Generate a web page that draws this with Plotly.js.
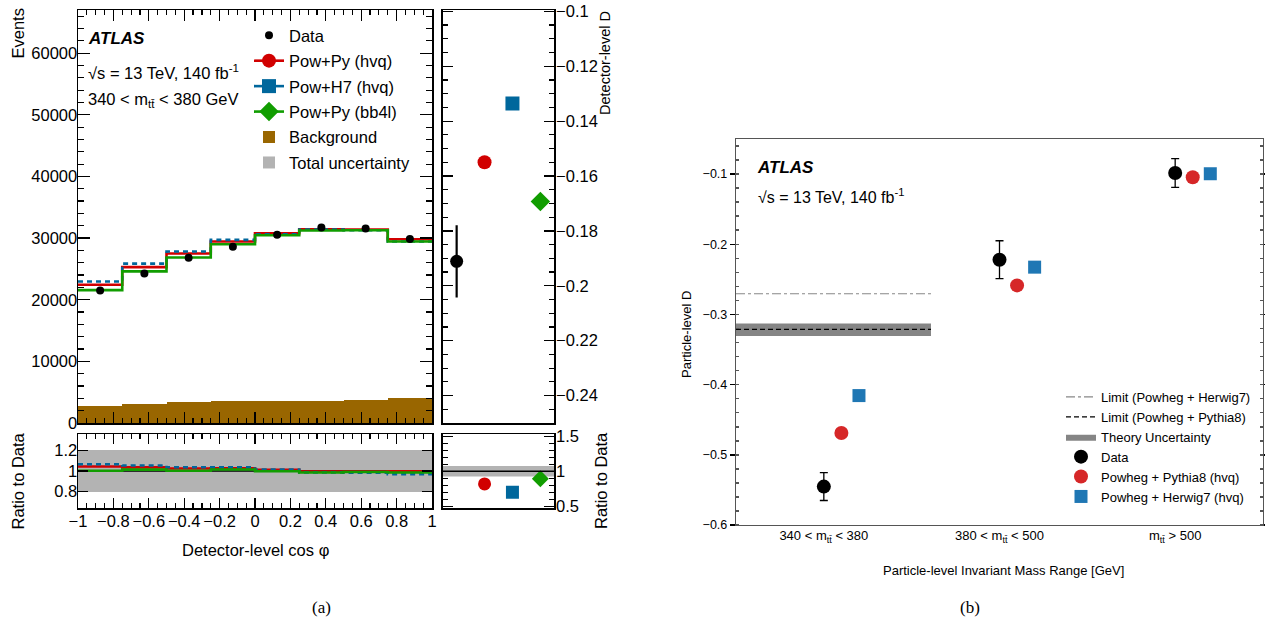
<!DOCTYPE html>
<html><head><meta charset="utf-8">
<script src="https://cdn.plot.ly/plotly-3.0.1.min.js"></script>
<style>html,body{margin:0;padding:0;background:#fff;} #chart{width:1265px;height:627px;}</style>
</head><body><div id="chart"></div>
<script>
// ---------------- Panel (a) values ----------------
const binEdges = [-1, -0.75, -0.5, -0.25, 0, 0.25, 0.5, 0.75, 1];
const dataEvents = [21500, 24260, 26800, 28580, 30520, 31720, 31550, 29870];
const powPyHvq = [22420, 25280, 27500, 29450, 30790, 31440, 31390, 29820];
const powH7Hvq = [22960, 25860, 27830, 29710, 30630, 31390, 31280, 29450];
const powPyBb4l = [21560, 24590, 26850, 29010, 30470, 31230, 31280, 29450];
const background = [2750, 3130, 3350, 3560, 3610, 3560, 3730, 4000];
const ratioPowPyHvq = [1.044, 1.035, 1.025, 1.027, 1.012, 0.994, 0.995, 0.998];
const ratioPowH7Hvq = [1.066, 1.053, 1.037, 1.037, 1.014, 0.987, 0.984, 0.970];
const ratioPowPyBb4l = [1.003, 1.013, 1.002, 1.015, 0.997, 0.985, 0.991, 0.986];
const totalUnc = [0.2, 0.2, 0.2, 0.2, 0.2, 0.2, 0.2, 0.2];
// detector-level D summary
const dLabels = ['Data', 'Pow+Py (hvq)', 'Pow+H7 (hvq)', 'Pow+Py (bb4l)'];
const detD = [-0.1911, -0.155, -0.1336, -0.1693];
const detDErr = [0.0132, 0, 0, 0];
const detDRatio = [1, 0.82, 0.70, 0.893];
const detDDataUnc = 0.075;

// ---------------- Panel (b) values ----------------
const massRanges = ['340 &lt; m<sub>tt̄</sub> &lt; 380', '380 &lt; m<sub>tt̄</sub> &lt; 500', 'm<sub>tt̄</sub> &gt; 500'];
const dataPartD = [-0.5453, -0.222, -0.0985];
const dataPartErr = [0.0198, 0.027, 0.0205];
const pythiaPartD = [-0.469, -0.2586, -0.1045];
const herwigPartD = [-0.4156, -0.2326, -0.0995];
const limitHerwig = -0.2705;
const limitPythia = -0.3212;
const theoryBand = [-0.3307, -0.3128];

// ---------------- helpers ----------------
const W = 1265, H = 627;
const PX = x => x / W;
const PY = y => 1 - y / H;
const FONT = 'Liberation Sans, Arial, sans-serif';
const RED = '#d10000', BLUE = '#00679c', GREEN = '#119d00', BROWN = '#996600', GREY = '#b3b3b3';
const centers = binEdges.slice(0, -1).map((e, i) => (e + binEdges[i + 1]) / 2);
const stepY = v => v.concat([v[v.length - 1]]);

const traces = [];
traces.push({type: 'bar', x: centers, y: background, width: 0.25, xaxis: 'x', yaxis: 'y',
  marker: {color: BROWN, line: {width: 0}}, name: 'Background', legend: 'legend', legendgroup: 'g5', legendrank: 5, hoverinfo: 'skip'});
traces.push({type: 'bar', x: centers, y: totalUnc.map(u => 2 * u), base: totalUnc.map(u => 1 - u), width: 0.25,
  xaxis: 'x2', yaxis: 'y2', marker: {color: GREY, line: {width: 0}}, name: 'Total uncertainty', legend: 'legend', legendgroup: 'g6', legendrank: 6, hoverinfo: 'skip'});
const stepDefs = [
  [powPyHvq, ratioPowPyHvq, RED, 'solid'],
  [powH7Hvq, ratioPowH7Hvq, BLUE, '5px,4px'],
  [powPyBb4l, ratioPowPyBb4l, GREEN, 'solid']
];
stepDefs.forEach(([v, r, c, d]) => {
  traces.push({type: 'scatter', mode: 'lines', x: binEdges, y: stepY(v), xaxis: 'x', yaxis: 'y',
    line: {shape: 'hv', color: c, width: 2.6, dash: d}, showlegend: false, hoverinfo: 'skip'});
});
traces.push({type: 'scatter', mode: 'lines', x: binEdges, y: stepY(dataEvents.map(v => v / v)), xaxis: 'x2', yaxis: 'y2',
  line: {shape: 'hv', color: '#000', width: 1.3}, showlegend: false, hoverinfo: 'skip'});
stepDefs.forEach(([v, r, c, d]) => {
  traces.push({type: 'scatter', mode: 'lines', x: binEdges, y: stepY(r), xaxis: 'x2', yaxis: 'y2',
    line: {shape: 'hv', color: c, width: 2.6, dash: d}, showlegend: false, hoverinfo: 'skip'});
});
traces.push({type: 'scatter', mode: 'markers', x: centers, y: dataEvents, xaxis: 'x', yaxis: 'y',
  marker: {color: '#000', size: 8}, name: 'Data', legend: 'legend', legendgroup: 'g1', legendrank: 1, hoverinfo: 'skip'});

const dSym = ['circle', 'circle', 'square', 'diamond'];
const dCol = ['#000', RED, BLUE, GREEN];
const dSize = [13, 14, 14, 15];
dLabels.forEach((lab, i) => {
  const t = {type: 'scatter', mode: i === 0 ? 'markers' : 'lines+markers', x: [i + 0.5], y: [detD[i]], xaxis: 'x3', yaxis: 'y3',
    marker: {color: dCol[i], size: dSize[i], symbol: dSym[i]}, line: {color: dCol[i], width: 2.6},
    name: lab, legend: 'legend', legendgroup: 'g' + (i + 1), legendrank: i + 1, showlegend: i > 0, hoverinfo: 'skip'};
  if (i === 0) t.error_y = {type: 'data', array: [detDErr[0]], color: '#000', thickness: 2.2, width: 0};
  traces.push(t);
  if (i > 0) {
    traces.push({type: 'scatter', mode: 'markers', x: [i + 0.5], y: [detDRatio[i]], xaxis: 'x4', yaxis: 'y4',
      marker: {color: dCol[i], size: 13, symbol: dSym[i]}, showlegend: false, hoverinfo: 'skip'});
  }
});

// ---------------- Panel (b) traces ----------------
const idx = massRanges.map((_, i) => i);
const bandX = [-0.5, 0.61];
traces.push({type: 'scatter', mode: 'lines', x: bandX, y: [limitHerwig, limitHerwig], xaxis: 'x5', yaxis: 'y5',
  line: {color: '#888', width: 1.2, dash: 'dashdot'}, name: 'Limit (Powheg + Herwig7)', legend: 'legend2', legendrank: 1, hoverinfo: 'skip'});
traces.push({type: 'scatter', mode: 'lines', x: bandX, y: [theoryBand[0], theoryBand[0]], xaxis: 'x5', yaxis: 'y5',
  line: {width: 0}, showlegend: false, hoverinfo: 'skip'});
traces.push({type: 'scatter', mode: 'lines', x: bandX, y: [theoryBand[1], theoryBand[1]], xaxis: 'x5', yaxis: 'y5',
  line: {width: 0}, fill: 'tonexty', fillcolor: '#858585', name: 'Theory Uncertainty', legend: 'legend2', legendrank: 3, hoverinfo: 'skip'});
traces.push({type: 'scatter', mode: 'lines', x: bandX, y: [limitPythia, limitPythia], xaxis: 'x5', yaxis: 'y5',
  line: {color: '#000', width: 1.3, dash: '5px,3px'}, name: 'Limit (Powheg + Pythia8)', legend: 'legend2', legendrank: 2, hoverinfo: 'skip'});
traces.push({type: 'scatter', mode: 'markers', x: idx, y: dataPartD, xaxis: 'x5', yaxis: 'y5',
  error_y: {type: 'data', array: dataPartErr, color: '#000', thickness: 1.3, width: 4},
  marker: {color: '#000', size: 14}, name: 'Data', legend: 'legend2', legendrank: 4, hoverinfo: 'skip'});
traces.push({type: 'scatter', mode: 'markers', x: idx.map(i => i + 0.1), y: pythiaPartD, xaxis: 'x5', yaxis: 'y5',
  marker: {color: '#d62728', size: 14}, name: 'Powheg + Pythia8 (hvq)', legend: 'legend2', legendrank: 5, hoverinfo: 'skip'});
traces.push({type: 'scatter', mode: 'markers', x: idx.map(i => i + 0.2), y: herwigPartD, xaxis: 'x5', yaxis: 'y5',
  marker: {color: '#1f77b4', size: 13, symbol: 'square'}, name: 'Powheg + Herwig7 (hvq)', legend: 'legend2', legendrank: 6, hoverinfo: 'skip'});

// ---------------- layout ----------------
const tf = {family: FONT, size: 16.5, color: '#000'};
const dA = [PX(78), PX(432)], dD = [PX(442.7), PX(554.3)];
const yMain = [PY(423), PY(10)], yRat = [PY(508), PY(434)];
const baseAx = {showgrid: false, zeroline: false, showline: true, linecolor: '#000', linewidth: 1.5,
  tickcolor: '#000', tickwidth: 1.2, tickfont: tf, fixedrange: true};
const ann = (text, x, y, font, opts) => Object.assign({text, x: PX(x), y: PY(y), xref: 'paper', yref: 'paper',
  showarrow: false, xanchor: 'center', yanchor: 'middle', font}, opts || {});

const layout = {
  width: W, height: H, margin: {l: 0, r: 0, t: 0, b: 0}, paper_bgcolor: '#fff', plot_bgcolor: 'rgba(0,0,0,0)',
  font: {family: FONT, color: '#000'}, barmode: 'overlay', bargap: 0,
  xaxis: Object.assign({}, baseAx, {domain: dA, anchor: 'y', range: [-1, 1], dtick: 0.2, tick0: 0, ticks: 'inside', ticklen: 11,
    minor: {dtick: 0.05, ticks: 'inside', ticklen: 5, tickcolor: '#000'}, mirror: 'allticks', showticklabels: false}),
  yaxis: Object.assign({}, baseAx, {domain: yMain, anchor: 'x', range: [0, 67000], dtick: 10000, tickformat: 'd', ticks: 'inside', ticklen: 12,
    minor: {dtick: 2000, ticks: 'inside', ticklen: 6, tickcolor: '#000'}, mirror: 'allticks', ticklabelstandoff: -4}),
  xaxis2: Object.assign({}, baseAx, {domain: dA, anchor: 'y2', range: [-1, 1], dtick: 0.2, tick0: 0, ticks: 'inside', ticklen: 10,
    minor: {dtick: 0.05, ticks: 'inside', ticklen: 5, tickcolor: '#000'}, mirror: 'allticks', ticklabelstandoff: -2}),
  yaxis2: Object.assign({}, baseAx, {domain: yRat, anchor: 'x2', range: [0.64, 1.36], tickvals: [0.8, 1, 1.2], ticktext: ['0.8', '1', '1.2'],
    ticks: 'inside', ticklen: 10, mirror: 'allticks', ticklabelstandoff: -4}),
  xaxis3: Object.assign({}, baseAx, {domain: dD, anchor: 'y3', range: [0, 4], ticks: '', showticklabels: false, mirror: true}),
  yaxis3: Object.assign({}, baseAx, {domain: yMain, anchor: 'x3', side: 'right', range: [-0.25, -0.0995], dtick: 0.02, tick0: 0,
    ticks: 'inside', ticklen: 10, minor: {dtick: 0.005, ticks: 'inside', ticklen: 5, tickcolor: '#000'}, mirror: 'allticks', ticklabelstandoff: -3}),
  xaxis4: Object.assign({}, baseAx, {domain: dD, anchor: 'y4', range: [0, 4], ticks: '', showticklabels: false, mirror: true}),
  yaxis4: Object.assign({}, baseAx, {domain: yRat, anchor: 'x4', side: 'right', range: [0.475, 1.535], dtick: 0.5, tick0: 0,
    ticks: 'inside', ticklen: 10, minor: {dtick: 0.1, ticks: 'inside', ticklen: 5, tickcolor: '#000'}, mirror: 'allticks', ticklabelstandoff: -3}),
  xaxis5: Object.assign({}, baseAx, {domain: [PX(736), PX(1263)], anchor: 'y5', range: [-0.5, 2.5], tickvals: idx, ticktext: massRanges,
    ticks: '', linecolor: '#555', linewidth: 1.2, mirror: true, tickfont: {family: FONT, size: 13, color: '#000'}, ticklabelstandoff: -2}),
  yaxis5: Object.assign({}, baseAx, {domain: [PY(525), PY(139)], anchor: 'x5', range: [-0.6, -0.05], dtick: 0.1, tick0: 0,
    ticks: 'outside', ticklen: 5, tickwidth: 1.5, linecolor: '#555', linewidth: 1.2, mirror: 'allticks',
    minor: {dtick: 0.02, ticks: 'inside', ticklen: 3, tickcolor: '#555'}, tickfont: {family: FONT, size: 12.5, color: '#000'}}),
  legend: {x: PX(249), y: PY(18), xanchor: 'left', yanchor: 'top', bgcolor: 'rgba(0,0,0,0)', borderwidth: 0,
    font: {family: FONT, size: 16.5, color: '#000'}, traceorder: 'grouped', tracegroupgap: 1, itemclick: false},
  legend2: {x: PX(1061), y: PY(382), xanchor: 'left', yanchor: 'top', bgcolor: 'rgba(0,0,0,0)', borderwidth: 0,
    font: {family: FONT, size: 13, color: '#000'}, traceorder: 'normal', itemclick: false},
  shapes: [
    {type: 'rect', xref: 'x4', yref: 'y4', x0: 0, x1: 4, y0: 1 - detDDataUnc, y1: 1 + detDDataUnc, fillcolor: GREY, line: {width: 0}, layer: 'below'},
    {type: 'line', xref: 'x4', yref: 'y4', x0: 0, x1: 4, y0: 1, y1: 1, line: {color: '#000', width: 1.5}}
  ],
  annotations: [
    ann('Events', 17.5, 34, tf, {textangle: -90}),
    ann('Ratio to Data', 17.5, 481, tf, {textangle: -90}),
    ann('Ratio to Data', 601, 481, tf, {textangle: -90}),
    ann('Detector-level D', 605, 63, {family: FONT, size: 14.5, color: '#000'}, {textangle: -90}),
    ann('Detector-level cos φ', 255, 550, tf),
    ann('ATLAS', 86, 39, {family: FONT, size: 17, weight: 'bold', style: 'italic', color: '#000'}, {xanchor: 'left'}),
    ann('√s = 13 TeV, 140 fb<sup>-1</sup>', 86, 72, tf, {xanchor: 'left'}),
    ann('340 &lt; m<sub>tt̄</sub> &lt; 380 GeV', 86, 100, tf, {xanchor: 'left'}),
    ann('ATLAS', 755, 167, {family: FONT, size: 17, weight: 'bold', style: 'italic', color: '#000'}, {xanchor: 'left'}),
    ann('√s = 13 TeV, 140 fb<sup>-1</sup>', 756, 196, {family: FONT, size: 16, color: '#000'}, {xanchor: 'left'}),
    ann('Particle-level D', 686, 335, {family: FONT, size: 13, color: '#000'}, {textangle: -90}),
    ann('Particle-level Invariant Mass Range [GeV]', 1003, 570, {family: FONT, size: 13, color: '#000'}),
    ann('(a)', 322, 607, {family: 'Liberation Serif, serif', size: 17, color: '#000'}),
    ann('(b)', 970, 607, {family: 'Liberation Serif, serif', size: 17, color: '#000'})
  ]
};

Plotly.newPlot('chart', traces, layout, {staticPlot: true, displayModeBar: false});
</script>
</body></html>
